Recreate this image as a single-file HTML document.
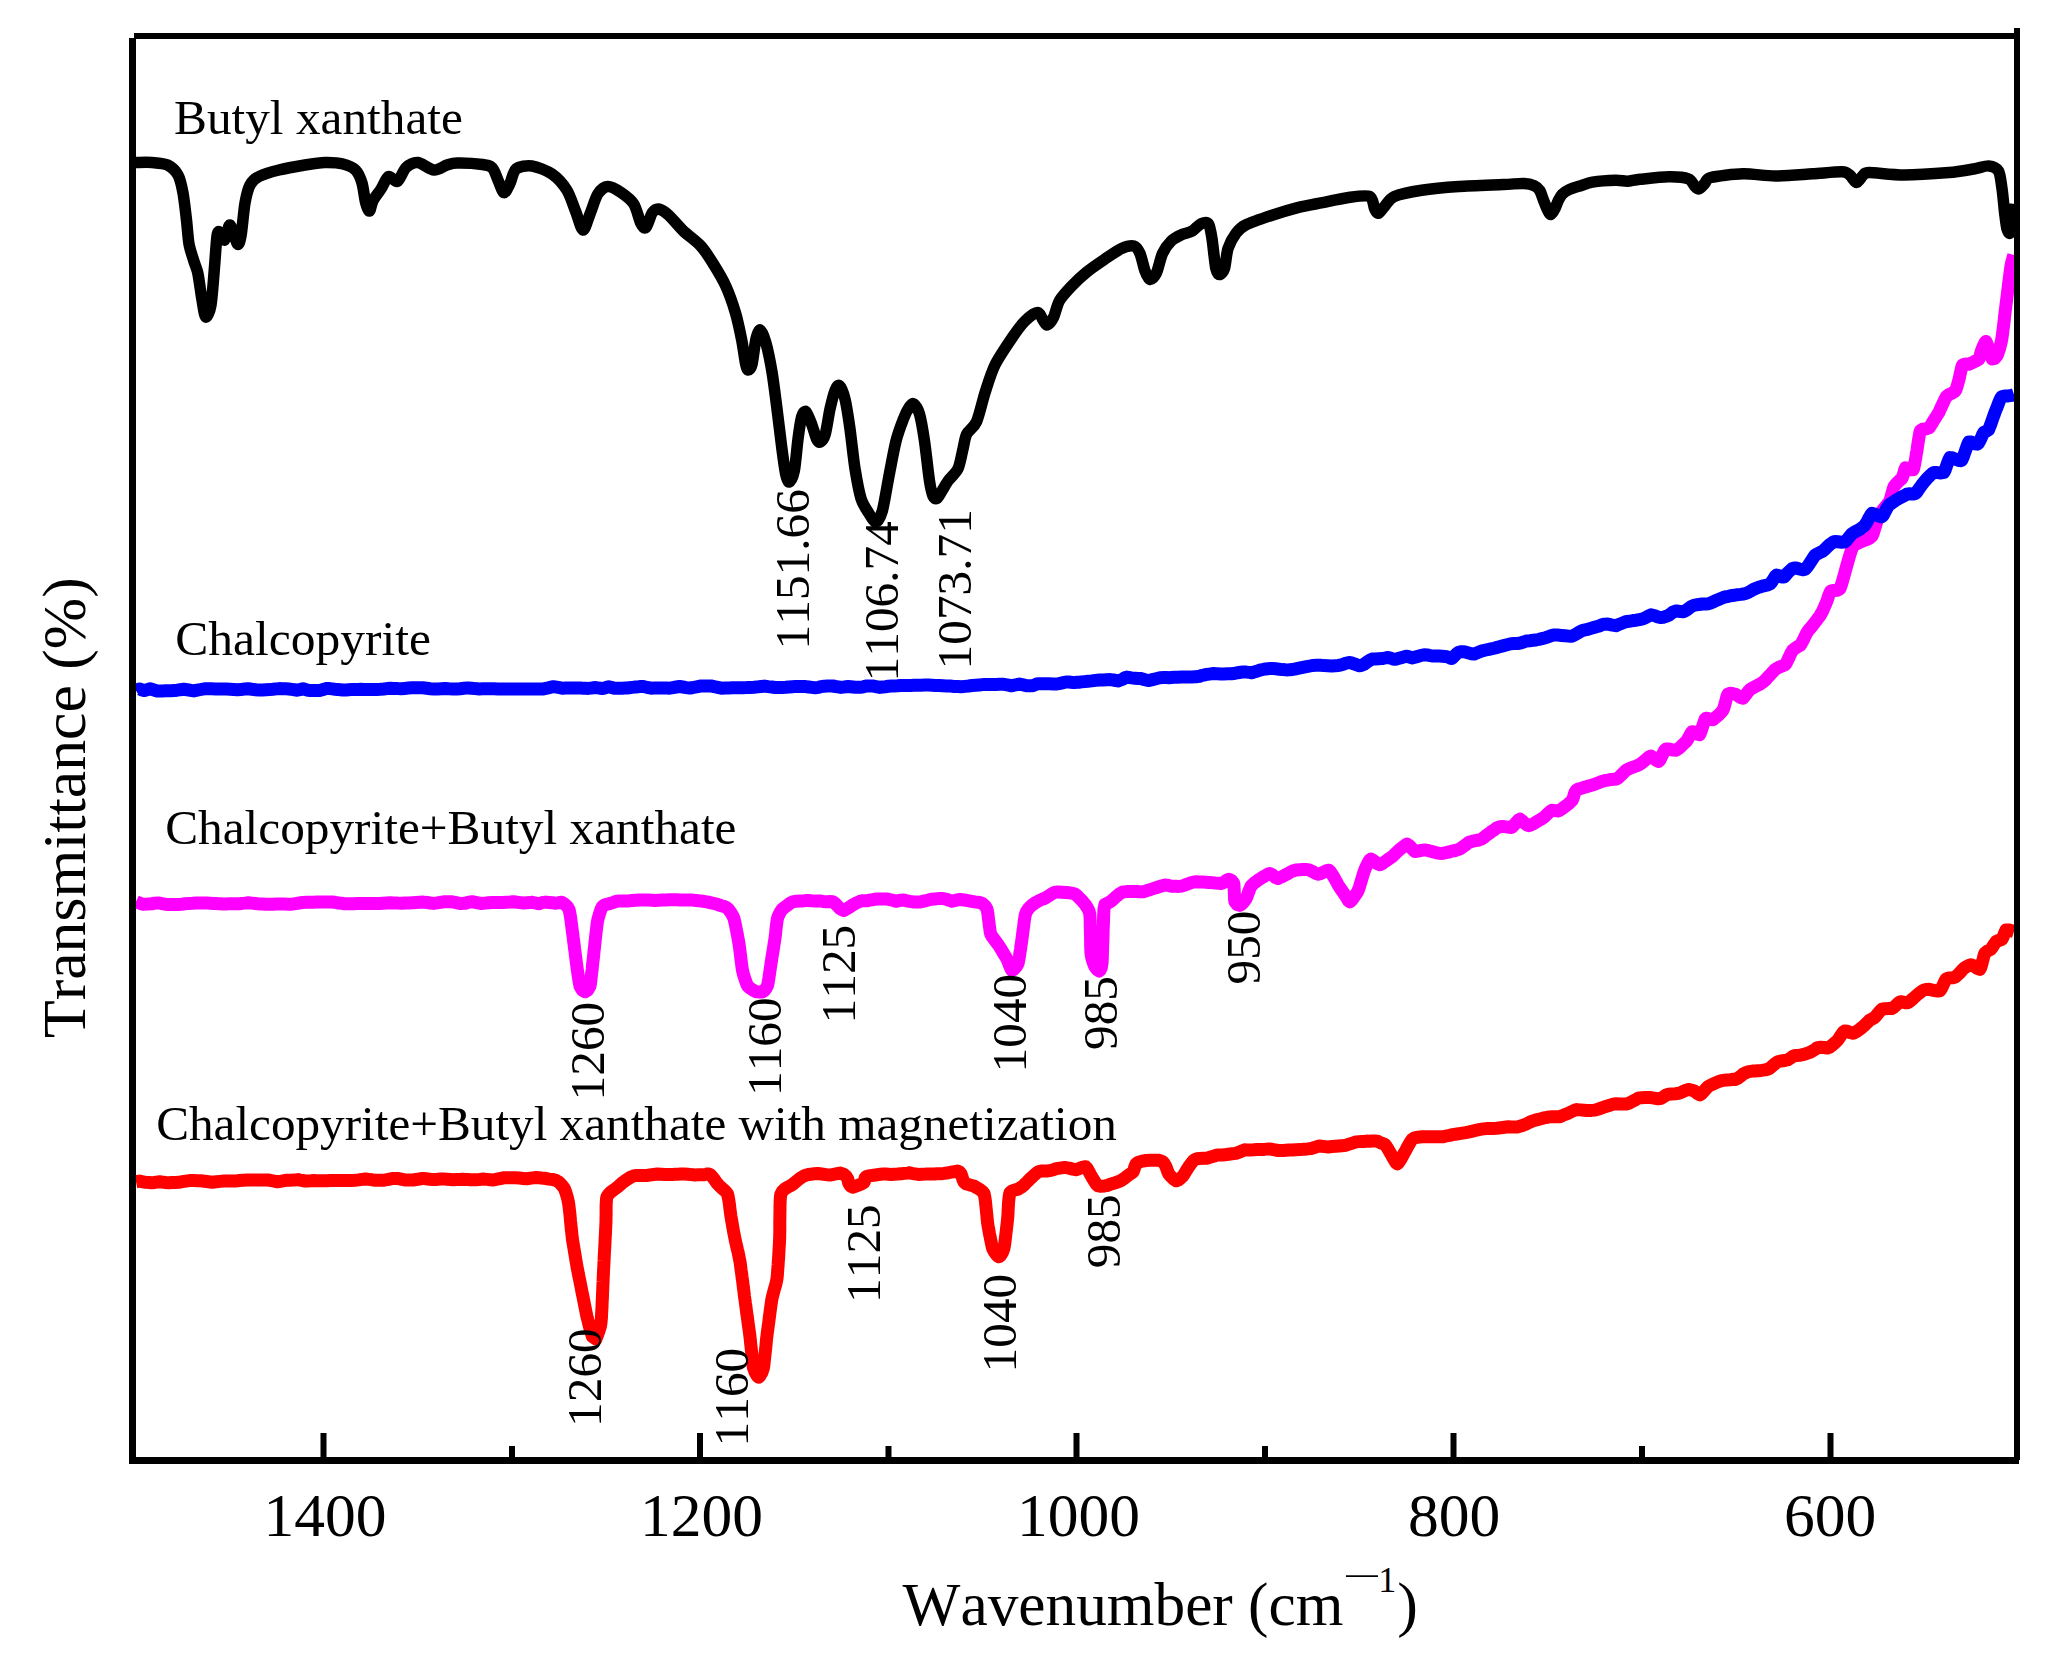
<!DOCTYPE html>
<html lang="en"><head><meta charset="utf-8"><title>FTIR spectra</title>
<style>html,body{margin:0;padding:0;background:#fff}svg{display:block}text{font-family:"Liberation Serif","Times New Roman",serif;fill:#000;font-kerning:none}.c{fill:none;stroke-linejoin:round;stroke-linecap:butt}</style></head><body>
<svg width="2064" height="1654" viewBox="0 0 2064 1654">
<rect width="2064" height="1654" fill="#fff"/>
<defs><clipPath id="pc"><rect x="133" y="36" width="1884" height="1424"/></clipPath></defs>
<g clip-path="url(#pc)">
<path class="c" stroke="#000" stroke-width="11.5" d="M136.0,162.5C138.3,162.5 147.5,162.1 152.0,162.5C156.5,162.9 163.9,163.2 167.6,165.0C171.3,166.8 175.8,171.0 178.0,175.0C180.2,179.0 181.8,186.5 183.0,193.0C184.2,199.5 185.8,213.8 186.6,221.0C187.4,228.2 188.0,238.3 189.0,244.0C190.0,249.7 192.7,257.2 194.0,261.5C195.3,265.8 196.9,268.5 198.0,274.0C199.1,279.5 200.9,293.9 202.0,300.0C203.1,306.1 204.4,316.3 205.7,317.0C207.0,317.7 209.8,312.1 211.0,305.0C212.2,297.9 213.7,276.8 214.5,267.0C215.3,257.2 216.3,241.0 217.0,236.0C217.7,231.0 218.5,231.4 219.6,232.0C220.7,232.6 223.2,241.0 224.7,240.0C226.2,239.0 228.2,224.4 230.0,225.0C231.8,225.6 235.8,242.4 237.4,244.0C239.0,245.6 239.9,241.8 241.0,236.0C242.1,230.2 243.7,210.2 245.0,203.0C246.3,195.8 248.0,188.8 250.0,185.0C252.0,181.2 254.9,178.6 259.0,176.5C263.1,174.4 272.5,171.6 279.0,170.0C285.5,168.4 298.5,166.1 305.0,165.0C311.5,163.9 319.6,162.6 325.0,162.5C330.4,162.4 338.7,162.9 343.0,164.0C347.3,165.1 352.8,167.3 355.5,170.0C358.2,172.7 360.6,178.3 362.0,183.0C363.4,187.7 364.6,199.0 365.7,203.0C366.8,207.0 368.5,211.3 369.5,211.0C370.5,210.7 371.4,203.7 373.0,200.6C374.6,197.5 378.8,192.4 381.0,189.0C383.2,185.6 386.2,177.6 388.5,176.5C390.8,175.4 394.9,182.8 397.4,181.5C399.9,180.2 403.1,170.3 406.0,167.6C408.9,164.9 413.7,162.2 417.7,162.5C421.7,162.8 429.8,169.6 434.0,170.0C438.2,170.4 443.7,166.0 447.0,165.0C450.3,164.0 452.0,163.1 457.0,163.0C462.0,162.9 477.5,163.8 482.5,164.5C487.5,165.2 490.1,165.6 492.4,168.0C494.7,170.4 497.0,178.1 498.6,181.6C500.2,185.1 502.4,192.4 504.0,192.7C505.6,193.0 508.1,187.4 509.8,184.0C511.5,180.6 512.9,171.6 516.0,169.0C519.1,166.4 526.9,165.3 532.0,166.0C537.1,166.7 547.1,170.6 552.0,174.0C556.9,177.4 563.5,184.8 566.8,190.0C570.1,195.2 573.2,205.3 575.5,211.0C577.8,216.7 580.9,229.6 583.0,230.0C585.1,230.4 587.9,219.1 590.0,214.0C592.1,208.9 595.3,197.9 597.8,194.0C600.3,190.1 604.5,186.7 607.8,186.5C611.1,186.3 617.7,190.2 621.4,192.7C625.1,195.2 631.0,199.6 633.8,204.0C636.6,208.4 639.3,220.4 641.0,223.7C642.7,227.0 644.4,229.1 646.0,227.5C647.6,225.9 650.6,215.2 652.4,212.6C654.2,210.0 656.3,208.7 658.6,209.0C660.9,209.3 665.0,211.9 668.5,215.0C672.0,218.1 678.8,226.6 683.4,231.0C688.0,235.4 696.6,241.4 700.8,246.0C705.0,250.6 709.5,257.8 713.0,263.4C716.5,269.0 722.4,278.7 725.6,285.7C728.8,292.7 733.2,305.3 735.5,313.0C737.8,320.7 740.3,333.0 741.7,340.0C743.1,347.0 744.5,358.4 745.4,362.7C746.3,366.9 747.1,369.7 748.0,370.0C748.9,370.3 750.9,368.8 752.0,364.5C753.1,360.2 754.7,344.6 755.8,339.7C756.9,334.8 758.6,329.5 760.0,329.8C761.4,330.1 764.0,336.0 765.7,342.0C767.4,348.0 770.4,362.5 772.0,372.0C773.6,381.5 775.6,398.1 777.0,409.0C778.4,419.9 780.7,439.6 781.9,448.8C783.1,458.0 784.6,469.0 785.6,473.7C786.6,478.4 788.1,482.4 789.3,482.0C790.5,481.6 793.1,477.1 794.3,471.0C795.5,464.9 797.0,446.7 798.0,439.0C799.0,431.3 800.6,420.5 801.7,416.6C802.8,412.7 804.6,410.6 806.0,411.6C807.4,412.6 810.1,420.1 811.6,424.0C813.1,427.9 815.4,436.4 816.6,439.0C817.8,441.6 819.1,442.7 820.3,442.0C821.5,441.3 823.9,438.7 825.3,434.0C826.7,429.3 828.6,415.2 830.0,409.0C831.4,402.8 833.7,393.8 835.0,390.5C836.3,387.2 838.0,384.4 839.4,385.6C840.8,386.8 843.5,392.9 845.0,399.0C846.5,405.1 848.6,419.1 850.0,429.0C851.4,438.9 853.4,458.9 855.0,468.7C856.6,478.5 859.1,492.2 861.0,498.5C862.9,504.8 866.6,509.7 868.7,513.0C870.8,516.3 874.1,522.3 876.0,522.0C877.9,521.7 880.5,517.1 882.3,511.0C884.1,504.9 886.6,488.5 888.5,478.6C890.4,468.7 893.9,449.4 896.0,441.0C898.1,432.6 901.5,423.9 903.4,419.0C905.3,414.1 908.1,408.8 909.6,406.7C911.1,404.6 912.4,403.0 913.8,404.0C915.2,405.0 918.0,408.8 919.5,414.0C921.0,419.2 923.1,431.5 924.5,441.0C925.9,450.5 928.3,473.2 929.5,481.0C930.7,488.8 932.0,493.5 933.0,496.0C934.0,498.5 935.6,499.2 936.9,498.5C938.2,497.8 940.3,493.5 941.9,491.0C943.5,488.5 945.7,484.2 948.0,481.0C950.3,477.8 955.9,473.3 958.0,468.7C960.1,464.1 961.8,453.7 963.0,448.8C964.2,443.9 964.8,437.9 966.7,434.0C968.6,430.1 974.0,427.6 976.6,421.6C979.2,415.6 982.7,399.9 985.3,391.8C987.9,383.7 991.3,372.3 995.2,364.5C999.1,356.7 1008.4,343.2 1012.6,337.0C1016.8,330.8 1021.5,324.5 1025.0,321.0C1028.5,317.5 1034.8,312.4 1037.4,312.4C1040.0,312.4 1042.2,319.2 1043.6,321.0C1045.0,322.8 1045.9,325.3 1047.3,324.8C1048.7,324.3 1051.8,320.8 1053.5,317.4C1055.2,314.0 1056.9,305.1 1059.5,300.6C1062.1,296.1 1068.1,289.8 1072.0,285.7C1075.9,281.6 1082.3,275.7 1086.8,272.0C1091.3,268.3 1099.1,263.0 1104.0,259.7C1108.9,256.4 1117.3,250.4 1121.6,248.5C1125.8,246.6 1131.4,245.3 1134.0,246.0C1136.6,246.7 1138.4,250.0 1140.0,253.5C1141.6,257.0 1143.6,267.2 1145.0,270.9C1146.4,274.6 1148.4,279.2 1150.0,279.5C1151.6,279.8 1154.5,277.0 1156.3,273.3C1158.1,269.6 1160.4,258.1 1162.5,253.5C1164.6,248.9 1168.6,243.6 1171.2,241.0C1173.8,238.4 1178.0,236.4 1181.0,235.0C1184.0,233.6 1189.5,232.6 1192.3,231.0C1195.1,229.4 1198.7,224.7 1201.0,223.7C1203.3,222.7 1206.8,221.6 1208.4,223.7C1210.0,225.8 1211.0,232.3 1212.0,238.6C1213.0,244.9 1214.7,263.3 1215.8,268.4C1216.9,273.5 1218.3,274.6 1219.5,274.6C1220.7,274.6 1223.3,272.1 1224.5,268.4C1225.7,264.7 1226.4,253.4 1228.0,248.5C1229.6,243.6 1233.2,237.0 1235.7,233.7C1238.2,230.4 1240.3,227.6 1245.6,225.0C1250.9,222.4 1265.5,217.5 1272.9,215.0C1280.3,212.5 1290.7,209.4 1297.7,207.6C1304.7,205.8 1315.5,204.0 1322.5,202.6C1329.5,201.2 1340.6,198.6 1347.3,197.7C1354.0,196.8 1365.7,194.8 1369.6,196.4C1373.5,198.0 1373.4,206.4 1374.6,208.8C1375.8,211.2 1376.9,213.6 1378.3,213.3C1379.7,213.0 1382.2,208.8 1384.5,206.4C1386.8,204.0 1389.1,198.7 1394.4,196.4C1399.7,194.1 1412.5,191.6 1421.7,190.2C1430.9,188.8 1447.4,187.3 1459.0,186.5C1470.6,185.7 1494.2,185.0 1503.3,184.6C1512.4,184.2 1519.0,183.2 1523.4,183.4C1527.8,183.6 1532.0,184.7 1534.3,185.7C1536.6,186.7 1538.4,188.3 1539.7,190.4C1541.0,192.5 1542.5,197.8 1543.6,200.5C1544.7,203.2 1546.4,207.8 1547.4,209.8C1548.4,211.8 1549.8,214.7 1550.9,214.5C1552.0,214.3 1554.2,210.2 1555.2,208.2C1556.2,206.2 1557.3,202.5 1558.3,200.5C1559.3,198.5 1560.7,195.8 1562.2,194.3C1563.7,192.8 1566.5,190.8 1569.1,189.6C1571.7,188.4 1577.5,186.7 1580.8,185.7C1584.1,184.7 1587.5,183.0 1592.4,182.2C1597.3,181.4 1610.8,180.4 1615.7,180.3C1620.6,180.2 1623.9,181.3 1627.3,181.2C1630.7,181.1 1634.1,179.9 1640.0,179.3C1645.9,178.7 1661.7,176.9 1668.6,176.8C1675.5,176.7 1684.7,177.5 1688.4,178.8C1692.1,180.1 1693.1,184.6 1694.6,186.0C1696.1,187.4 1697.5,189.3 1698.9,189.0C1700.3,188.7 1702.9,185.3 1704.6,183.7C1706.3,182.1 1705.4,178.9 1710.8,177.5C1716.2,176.1 1733.9,174.0 1743.0,173.8C1752.1,173.6 1765.2,176.0 1775.0,176.0C1784.8,176.0 1803.0,174.4 1812.5,173.8C1822.0,173.2 1836.7,171.6 1842.0,171.8C1847.3,172.0 1847.6,173.5 1849.7,175.0C1851.8,176.5 1854.7,182.5 1856.6,182.5C1858.5,182.5 1861.5,176.4 1863.3,175.0C1865.1,173.6 1863.7,172.6 1869.5,172.6C1875.3,172.6 1892.7,175.0 1904.0,175.0C1915.3,175.0 1939.1,173.4 1949.0,172.6C1958.9,171.8 1968.1,169.9 1973.7,169.0C1979.3,168.1 1985.1,165.6 1988.6,165.9C1992.1,166.2 1996.6,167.8 1998.5,171.0C2000.4,174.2 2001.1,182.7 2002.0,188.7C2002.9,194.7 2004.0,207.8 2004.7,213.5C2005.4,219.2 2006.2,226.2 2007.0,229.0C2007.8,231.8 2009.2,233.9 2010.0,233.2C2010.8,232.5 2011.8,228.1 2012.5,224.0C2013.2,219.9 2014.6,206.8 2015.0,204.0"/>
<path class="c" stroke="#f0f" stroke-width="13" d="M136.0,901.6L137.5,902.3L139.9,903.2L143.2,904.2L147.3,904.1L152.0,903.8L153.3,903.2L155.0,903.2L157.0,903.1L159.3,903.0L161.9,903.6L164.7,904.1L167.8,904.6L171.0,904.6L174.4,904.6L177.9,904.5L181.5,904.2L185.1,903.8L188.8,903.4L192.5,903.3L196.2,903.1L199.8,903.0L203.4,903.1L206.9,903.1L210.2,903.2L213.3,903.4L216.3,903.5L219.0,903.7L220.5,903.8L222.2,903.9L224.1,904.0L226.2,903.9L228.5,903.8L230.9,903.7L233.5,903.7L236.3,903.8L239.2,903.8L242.2,903.4L245.3,903.1L248.5,902.7L251.9,903.1L255.3,903.5L258.8,903.9L262.3,904.0L265.9,904.2L269.6,904.3L273.3,904.2L277.0,904.1L280.7,904.0L284.5,904.1L288.2,904.2L291.9,904.2L295.6,903.6L299.3,903.0L302.9,902.4L306.4,902.3L309.9,902.2L313.3,902.2L316.7,902.1L319.9,902.0L323.0,902.0L326.0,902.0L328.9,902.0L331.7,902.0L334.3,902.3L336.7,902.6L339.0,903.0L341.1,903.2L343.0,903.5L344.9,903.8L347.0,903.8L349.3,903.8L351.7,903.8L354.3,903.7L357.0,903.6L359.9,903.5L362.9,903.5L366.0,903.5L369.2,903.5L372.5,903.5L375.9,903.6L379.4,903.6L382.9,903.3L386.5,903.0L390.2,902.7L393.8,902.9L397.5,903.1L401.3,903.2L405.0,903.0L408.7,902.9L412.4,902.7L416.1,902.5L419.7,902.3L423.3,902.1L426.9,902.5L430.4,903.0L433.8,903.4L437.1,902.9L440.4,902.3L443.5,901.8L446.5,901.8L449.4,901.8L452.2,901.8L454.8,902.3L457.3,902.9L459.6,903.4L461.7,903.4L463.7,903.3L465.4,903.2L467.0,902.7L469.5,902.2L472.2,901.7L475.1,902.3L478.2,902.9L481.5,903.5L484.9,903.1L488.3,902.7L491.9,902.4L495.5,902.4L499.2,902.5L502.8,902.6L506.4,902.3L510.0,902.1L513.6,901.8L517.0,902.2L520.4,902.6L523.6,903.0L526.7,902.8L529.5,902.6L532.2,902.3L534.7,902.8L536.8,903.3L538.8,903.7L540.4,903.2L541.7,902.7L545.6,902.1L549.3,902.5L552.6,902.8L555.6,903.2L558.1,902.8L560.1,902.4L561.6,902.3L564.5,903.9L567.2,906.4L569.0,909.5L569.4,911.0L569.9,913.6L570.5,916.9L571.0,920.6L571.5,924.5L572.0,928.1L572.4,931.4L572.7,933.9L573.0,935.9L573.3,938.6L573.7,941.7L574.2,945.2L574.6,948.8L575.1,952.4L575.5,955.8L575.9,958.9L576.2,961.5L576.5,963.5L576.8,965.9L577.2,968.9L577.7,972.3L578.2,975.7L578.7,979.0L579.2,981.9L579.6,984.3L580.0,986.1L582.4,990.2L585.0,991.8L587.5,990.4L590.0,986.2L590.3,984.5L590.6,982.3L591.0,979.5L591.3,976.2L591.7,972.6L592.2,968.9L592.5,965.3L592.9,961.8L593.3,958.7L593.6,955.9L593.8,953.8L594.0,951.7L594.3,949.0L594.7,945.8L595.0,942.4L595.4,938.8L595.8,935.1L596.2,931.6L596.6,928.3L596.9,925.4L597.2,923.1L597.5,921.4L598.2,918.3L599.2,914.8L600.3,911.3L601.4,908.4L602.5,906.4L604.3,905.2L607.1,904.2L610.4,903.4L613.7,902.3L615.4,901.6L617.8,901.0L620.9,901.0L624.3,900.9L628.0,900.9L631.8,900.6L635.6,900.3L639.1,900.1L642.2,900.0L644.7,900.0L646.6,900.0L649.0,900.1L651.8,900.2L655.0,900.4L658.5,900.2L662.2,900.0L665.9,899.9L669.6,899.8L673.3,899.8L676.7,899.8L679.9,899.9L682.7,900.0L685.0,900.1L686.8,900.0L689.4,900.0L692.6,900.1L696.0,900.5L699.7,900.9L703.3,901.3L706.7,901.9L709.8,902.5L712.2,903.1L714.0,903.4L717.3,904.3L721.0,905.7L724.3,906.6L726.5,907.5L728.3,909.1L730.5,912.1L732.6,915.4L734.0,918.6L734.5,920.8L735.2,923.7L735.9,927.2L736.6,930.9L737.4,934.7L738.0,938.3L738.6,941.4L739.0,943.9L739.3,946.0L739.7,948.9L740.1,952.2L740.6,955.9L741.0,959.7L741.5,963.3L741.9,966.6L742.3,969.2L742.6,970.9L743.3,973.7L744.4,977.2L745.6,980.9L746.7,984.0L747.6,985.8L749.7,987.9L752.7,989.9L755.0,991.3L757.3,991.8L760.3,992.1L762.5,992.0L764.2,990.8L766.1,988.3L767.5,985.6L767.9,984.1L768.3,981.7L768.8,978.7L769.3,975.3L769.8,971.8L770.3,968.6L770.7,965.8L771.0,963.7L771.4,961.4L771.8,958.4L772.4,954.8L773.0,951.1L773.6,947.3L774.1,943.8L774.6,941.0L774.9,938.9L775.2,936.6L775.6,933.5L775.9,930.1L776.3,926.6L776.7,923.4L777.1,920.7L777.4,918.8L778.2,916.3L779.5,913.6L780.8,911.2L782.0,909.5L783.6,908.1L786.1,906.3L788.8,904.2L791.0,902.7L793.2,901.6L796.4,901.3L800.0,901.0L803.4,900.9L805.9,900.6L808.1,900.5L811.2,900.8L814.6,900.9L818.1,901.0L821.0,901.0L823.0,901.5L826.4,901.7L830.3,901.6L833.0,901.7L835.1,903.4L837.6,906.0L839.4,908.0L841.6,909.7L844.0,910.5L846.5,909.0L850.1,906.7L853.0,904.8L854.7,903.9L857.0,902.6L859.8,901.4L863.0,900.7L864.5,900.8L866.8,900.8L869.6,900.2L872.9,899.6L876.4,899.0L880.2,899.0L883.9,899.1L887.5,899.1L890.8,899.8L893.7,900.5L896.1,901.3L897.7,900.7L900.7,900.3L903.8,900.1L906.9,900.8L909.8,901.4L912.6,901.8L914.4,902.0L917.0,902.0L920.2,902.0L923.7,901.1L927.5,900.2L931.2,899.2L934.7,898.9L937.9,898.6L940.3,898.4L942.0,898.4L946.0,899.1L949.5,900.4L952.0,901.2L954.2,900.7L956.9,899.9L959.7,899.5L961.5,899.6L964.4,900.0L967.8,900.6L971.5,901.3L974.9,901.9L977.8,902.2L979.6,902.4L982.5,903.6L985.2,906.0L987.0,909.1L987.4,910.9L987.9,913.8L988.3,917.3L988.8,921.3L989.3,925.3L989.8,928.9L990.2,932.0L990.7,934.0L991.9,936.3L993.8,938.8L996.0,941.7L998.0,944.4L999.4,946.5L1000.7,948.5L1002.3,951.3L1004.1,954.3L1005.7,956.9L1006.8,958.7L1007.9,961.3L1009.3,965.0L1010.7,968.4L1011.8,970.4L1013.7,969.4L1016.2,966.8L1018.0,963.6L1018.4,962.0L1018.9,959.5L1019.4,956.5L1019.9,953.0L1020.5,949.5L1020.9,946.1L1021.4,943.2L1021.7,940.9L1022.0,938.8L1022.4,935.9L1022.8,932.5L1023.3,928.8L1023.8,925.1L1024.2,921.6L1024.7,918.4L1025.1,915.8L1025.5,914.1L1026.6,911.3L1028.3,908.8L1030.1,906.8L1031.7,905.4L1033.5,904.0L1036.1,902.3L1039.1,900.6L1041.9,899.4L1044.0,898.6L1046.0,897.6L1048.6,895.9L1051.5,894.1L1054.3,892.6L1056.5,892.0L1058.7,892.0L1062.0,892.2L1065.8,892.5L1069.6,892.8L1072.8,893.3L1074.9,894.0L1076.9,895.5L1079.2,897.8L1081.5,900.1L1083.5,902.4L1084.8,903.9L1086.1,905.9L1087.6,908.3L1089.0,911.0L1089.8,914.2L1089.9,915.6L1090.1,917.9L1090.2,920.8L1090.2,924.2L1090.3,927.9L1090.4,931.8L1090.5,935.8L1090.6,939.7L1090.6,943.4L1090.7,946.8L1090.8,949.7L1090.9,952.1L1091.0,953.6L1091.7,957.4L1092.7,961.0L1093.8,964.1L1094.7,966.3L1097.0,969.4L1099.2,971.0L1100.1,970.2L1101.2,968.1L1102.0,963.5L1102.1,962.2L1102.2,960.3L1102.3,957.8L1102.4,954.9L1102.5,951.6L1102.6,948.0L1102.7,944.2L1102.9,940.3L1103.0,936.2L1103.1,932.2L1103.2,928.2L1103.4,924.4L1103.5,920.9L1103.6,917.6L1103.7,914.7L1103.8,912.2L1103.9,910.3L1104.0,908.8L1105.0,904.3L1107.0,903.6L1108.5,902.8L1110.9,901.3L1113.9,898.6L1117.0,895.9L1119.8,893.6L1122.0,892.4L1124.0,891.9L1126.6,891.6L1129.8,891.6L1133.2,891.6L1136.5,891.6L1139.5,891.8L1141.9,891.8L1143.9,891.7L1146.8,890.7L1150.1,889.6L1153.8,888.4L1157.6,887.2L1161.3,886.1L1164.5,885.1L1167.2,885.2L1169.0,885.6L1172.3,886.3L1175.8,886.3L1179.0,886.4L1181.6,886.1L1183.9,885.4L1187.2,884.2L1190.8,882.8L1194.1,882.0L1196.4,881.8L1199.1,882.0L1202.7,882.1L1206.2,882.3L1208.8,882.6L1211.5,882.6L1215.1,883.0L1218.6,883.2L1221.0,883.6L1223.6,882.5L1226.6,880.3L1228.7,879.2L1231.4,880.4L1233.7,883.3L1234.0,885.0L1234.1,888.3L1234.3,892.3L1234.5,896.3L1234.6,899.6L1234.9,901.7L1237.2,904.5L1239.9,905.4L1241.7,904.2L1244.2,901.4L1246.0,898.8L1247.1,896.3L1248.4,892.6L1249.8,888.9L1251.0,886.2L1252.4,884.7L1254.5,882.8L1256.7,881.2L1258.5,879.8L1260.7,878.4L1264.0,876.5L1267.3,874.5L1269.6,873.5L1272.2,874.7L1275.3,877.4L1278.0,878.5L1279.8,877.5L1282.5,876.4L1285.5,874.8L1288.4,873.4L1290.7,871.9L1292.8,871.0L1295.9,870.0L1299.5,869.7L1303.0,869.6L1306.0,869.6L1308.0,869.7L1310.4,870.5L1313.2,871.9L1315.9,873.5L1318.0,874.3L1320.3,873.7L1323.5,872.1L1326.7,870.6L1329.0,870.2L1330.5,871.9L1332.5,874.9L1334.6,878.4L1336.5,881.8L1337.8,884.3L1339.4,886.9L1341.5,890.0L1343.6,893.0L1345.0,895.0L1346.6,897.6L1348.4,900.6L1350.0,901.9L1351.5,900.4L1353.8,897.5L1356.0,894.2L1357.7,891.5L1358.4,889.9L1359.3,887.4L1360.3,884.0L1361.4,880.3L1362.5,876.6L1363.5,873.4L1364.4,870.8L1365.0,869.2L1366.3,866.3L1367.9,863.0L1369.6,860.1L1371.0,859.1L1373.5,860.6L1377.0,863.5L1380.0,864.8L1381.9,863.8L1384.5,862.0L1387.5,859.9L1390.3,857.9L1392.4,856.5L1394.3,854.6L1396.9,852.1L1399.9,849.3L1402.8,847.0L1405.3,845.1L1407.0,844.1L1409.6,845.9L1412.4,849.1L1414.7,851.4L1417.6,851.2L1421.5,850.4L1424.7,849.9L1427.2,850.3L1430.7,851.2L1434.2,852.1L1437.0,852.9L1439.3,853.2L1442.5,853.4L1446.1,852.7L1449.5,851.9L1452.0,851.0L1454.2,850.8L1457.2,849.8L1460.6,848.6L1464.0,846.1L1466.9,843.8L1469.0,842.2L1471.8,841.4L1475.4,840.7L1479.0,840.0L1481.7,839.0L1483.6,837.7L1486.1,835.6L1489.1,833.4L1492.0,831.2L1494.7,829.5L1496.6,827.9L1499.1,827.0L1502.5,826.4L1506.1,826.9L1509.3,827.4L1511.5,827.6L1513.6,825.6L1516.0,822.8L1518.3,820.1L1520.0,819.2L1521.8,820.5L1524.3,822.9L1526.9,824.9L1528.9,825.7L1530.7,825.1L1533.4,823.7L1536.3,821.9L1539.1,820.2L1541.0,819.2L1542.9,818.0L1545.4,815.9L1548.0,813.4L1550.4,811.3L1552.0,810.3L1555.2,810.6L1558.6,811.0L1560.2,809.9L1562.6,808.3L1565.4,806.2L1568.2,804.1L1570.5,802.0L1572.0,800.6L1573.1,798.3L1574.0,795.2L1575.1,792.0L1576.8,789.7L1578.3,789.1L1580.7,788.4L1583.7,787.5L1587.1,786.5L1590.6,785.5L1594.1,784.5L1597.2,783.3L1599.8,782.3L1601.6,781.5L1604.4,780.7L1607.8,780.1L1611.3,779.4L1614.4,779.3L1616.5,779.0L1618.3,777.9L1620.4,775.9L1622.7,773.6L1624.8,771.5L1626.4,770.0L1628.9,768.7L1632.5,767.3L1636.1,766.0L1638.8,764.9L1640.8,763.7L1643.6,761.4L1646.6,758.9L1649.2,756.7L1651.0,756.0L1653.5,757.7L1656.5,760.5L1658.7,761.4L1659.9,760.1L1661.4,757.0L1663.1,753.4L1664.7,750.3L1666.0,749.1L1668.9,748.9L1672.9,750.1L1676.0,750.2L1678.2,748.9L1681.2,746.3L1684.0,743.4L1686.0,741.7L1687.4,739.7L1689.1,736.8L1690.7,733.6L1692.0,731.7L1694.3,732.0L1697.3,734.1L1699.6,734.6L1700.4,733.1L1701.5,730.0L1702.7,726.2L1703.9,722.4L1705.0,719.3L1705.8,718.2L1707.9,718.5L1710.7,719.6L1713.0,719.7L1714.6,718.2L1716.8,716.5L1719.3,714.3L1721.5,712.0L1723.0,710.1L1723.8,708.1L1724.7,705.1L1725.6,701.6L1726.5,698.2L1727.3,695.4L1728.0,693.9L1730.2,693.3L1733.2,693.7L1735.6,694.3L1737.9,695.7L1740.8,697.7L1743.0,698.2L1744.5,696.5L1746.5,693.8L1748.6,691.1L1750.5,689.2L1752.2,688.2L1754.8,686.8L1757.8,685.2L1760.9,683.6L1763.5,681.7L1765.3,680.1L1767.1,678.1L1769.3,675.8L1771.6,673.2L1773.7,671.0L1775.3,669.3L1778.3,667.6L1782.2,666.0L1785.0,664.8L1786.1,663.4L1787.4,660.8L1788.9,657.7L1790.3,654.6L1791.6,652.1L1792.6,650.3L1794.9,648.4L1797.8,646.6L1800.0,645.5L1801.2,643.9L1802.7,641.2L1804.4,637.6L1806.1,634.2L1807.5,631.6L1808.7,630.1L1810.5,628.0L1812.6,625.5L1814.8,622.6L1816.9,619.8L1818.7,617.4L1819.9,615.8L1821.0,614.0L1822.4,611.5L1823.8,608.4L1825.1,605.4L1826.2,602.8L1827.0,600.8L1827.9,598.2L1828.9,595.1L1830.0,592.4L1831.0,590.8L1833.5,590.4L1837.1,590.3L1839.8,589.1L1840.5,587.2L1841.5,584.5L1842.5,581.1L1843.5,577.5L1844.5,574.0L1845.3,570.8L1846.0,568.5L1846.6,566.3L1847.4,563.4L1848.4,559.9L1849.4,556.5L1850.4,553.2L1851.4,550.2L1852.3,547.8L1853.0,546.4L1855.6,544.2L1859.2,542.6L1862.0,541.4L1864.1,540.5L1867.1,539.4L1870.0,537.9L1872.0,536.0L1872.8,534.4L1873.7,531.8L1874.7,528.6L1875.8,525.3L1876.8,521.8L1877.8,518.7L1878.7,516.1L1879.5,514.4L1881.1,512.1L1883.3,509.2L1885.8,506.3L1888.0,503.5L1889.4,501.6L1890.3,499.3L1891.3,495.9L1892.3,492.2L1893.2,488.9L1894.0,486.6L1895.6,484.5L1897.9,482.1L1900.3,479.8L1901.8,478.7L1902.7,476.6L1903.7,473.3L1904.6,469.9L1905.5,467.9L1907.7,468.2L1910.8,469.8L1913.0,469.8L1913.6,468.6L1914.3,465.7L1915.0,462.0L1915.7,458.1L1916.2,454.6L1916.7,452.1L1917.1,449.9L1917.5,446.6L1918.1,442.8L1918.7,438.9L1919.3,435.4L1919.8,432.5L1920.4,430.6L1922.8,429.2L1926.2,428.8L1929.0,427.9L1930.3,426.1L1932.0,423.4L1934.0,420.0L1936.0,416.9L1937.8,414.1L1939.0,412.2L1940.0,409.9L1941.3,407.0L1942.8,403.7L1944.2,400.7L1945.4,398.2L1946.4,396.5L1949.1,394.5L1952.6,392.8L1955.0,391.3L1956.0,389.6L1957.1,386.2L1958.1,382.7L1958.9,379.8L1959.5,377.3L1960.2,373.7L1961.1,369.9L1961.9,366.6L1962.6,364.8L1965.5,364.1L1968.8,364.2L1970.9,363.3L1973.9,361.9L1976.9,360.4L1978.7,359.4L1979.7,357.5L1980.4,354.6L1981.0,352.0L1981.9,349.6L1983.3,346.1L1984.8,343.0L1986.0,341.4L1986.8,343.3L1987.9,346.2L1989.2,350.1L1990.4,354.0L1991.5,357.3L1992.3,359.0L1994.7,358.4L1997.0,355.6L1997.6,354.4L1998.4,352.0L1999.4,349.1L2000.3,345.8L2001.1,342.6L2001.7,339.7L2002.0,337.9L2002.3,335.5L2002.7,332.6L2003.1,329.4L2003.5,325.9L2004.0,322.2L2004.4,318.4L2004.8,314.7L2005.2,311.3L2005.6,308.1L2005.9,305.4L2006.2,303.2L2006.5,301.1L2006.8,298.4L2007.2,295.2L2007.6,291.7L2008.1,288.0L2008.6,284.2L2009.0,280.5L2009.5,276.8L2009.9,273.5L2010.3,270.8L2010.6,268.5L2010.8,267.0L2011.5,263.3L2012.5,259.7L2013.3,256.9L2013.8,255.0"/>
<path class="c" stroke="#00f" stroke-width="13" d="M136.0,690.6L137.0,690.0L138.1,689.5L139.4,688.9L140.8,689.4L142.4,690.0L144.2,690.6L146.0,690.0L148.0,689.4L150.1,688.8L152.4,689.5L154.7,690.2L157.2,691.0L159.8,690.9L162.5,690.9L165.2,690.8L168.1,690.7L171.1,690.7L174.1,690.6L177.2,690.2L180.4,689.7L183.7,689.3L187.0,689.8L190.4,690.3L193.8,690.9L197.3,690.2L200.8,689.5L204.4,688.8L208.0,688.8L211.6,688.8L215.2,688.9L218.9,689.0L222.6,689.1L226.3,689.1L230.0,689.3L233.6,689.5L237.3,689.7L241.0,689.4L244.7,689.1L248.3,688.8L251.9,689.3L255.5,689.7L259.1,690.1L262.6,690.0L266.1,689.8L269.5,689.6L272.9,689.3L276.2,688.9L279.4,688.6L282.6,688.7L285.7,688.8L288.8,689.0L291.7,689.4L294.6,689.8L297.3,690.2L300.0,689.7L301.4,689.2L302.9,688.7L304.5,689.3L306.2,689.8L307.9,690.3L309.8,690.4L311.7,690.5L313.7,690.6L315.7,690.5L317.9,690.5L320.1,690.4L322.4,689.7L324.7,689.0L327.1,688.4L329.6,688.6L332.2,688.9L334.8,689.2L337.5,689.4L340.2,689.7L343.0,690.0L345.8,689.9L348.7,689.7L351.7,689.6L354.7,689.5L357.7,689.4L360.8,689.3L364.0,689.4L367.2,689.5L370.4,689.5L373.7,689.5L377.0,689.4L380.3,689.3L383.7,689.0L387.1,688.6L390.6,688.3L394.1,688.4L397.6,688.6L401.1,688.7L404.7,688.4L408.3,688.1L411.9,687.8L415.6,687.8L419.2,687.7L422.9,687.7L426.6,688.2L430.3,688.7L434.0,689.1L437.7,689.0L441.5,688.8L445.2,688.6L449.0,688.8L452.7,688.9L456.5,689.1L460.3,688.7L464.0,688.3L467.8,687.9L471.6,688.2L475.3,688.6L479.1,688.9L482.8,688.8L486.5,688.8L490.3,688.7L494.0,688.8L497.7,688.9L501.3,689.0L505.0,689.0L508.6,688.9L512.2,688.9L515.8,688.9L519.4,689.0L522.9,689.1L526.5,689.0L529.9,688.9L533.4,688.9L536.8,688.9L540.2,688.9L543.6,688.9L546.9,688.2L550.1,687.4L553.4,686.7L556.6,687.2L559.7,687.7L562.8,688.3L565.9,688.1L568.9,688.0L571.8,687.9L574.7,687.9L577.5,688.0L580.3,688.1L583.1,688.2L585.7,688.3L588.3,688.4L590.9,688.1L593.4,687.8L595.8,687.6L598.1,687.9L600.4,688.2L602.6,688.5L604.8,687.9L606.8,687.3L608.8,686.7L610.7,687.2L612.6,687.8L614.3,688.3L616.0,688.3L618.1,688.3L620.2,688.2L622.4,688.2L624.7,688.1L627.0,688.0L629.5,687.7L632.0,687.4L634.5,687.1L637.1,686.9L639.8,686.6L642.6,686.4L645.4,687.0L648.3,687.6L651.2,688.2L654.1,688.1L657.2,688.0L660.2,687.9L663.3,688.0L666.5,688.1L669.7,688.2L673.0,687.6L676.2,687.0L679.6,686.5L682.9,687.0L686.3,687.6L689.7,688.1L693.1,687.5L696.6,686.8L700.1,686.1L703.6,686.0L707.1,686.0L710.7,685.9L714.2,686.7L717.8,687.4L721.4,688.2L725.0,688.0L728.6,687.9L732.2,687.7L735.8,687.7L739.4,687.7L743.1,687.7L746.7,687.6L750.3,687.4L753.9,687.3L757.5,686.9L761.0,686.5L764.6,686.1L768.2,686.6L771.7,687.0L775.2,687.5L778.7,687.4L782.2,687.4L785.6,687.3L789.0,687.0L792.4,686.7L795.8,686.4L799.1,686.5L802.4,686.5L805.6,686.6L808.8,687.0L812.0,687.4L815.1,687.8L818.2,687.3L821.2,686.7L824.2,686.2L827.1,686.1L830.0,686.1L832.8,686.0L835.5,686.5L838.2,686.9L840.9,687.4L843.4,687.1L845.9,686.8L848.4,686.5L850.7,686.7L853.0,687.0L855.2,687.3L857.4,687.2L859.4,687.2L861.4,687.2L863.3,686.8L865.1,686.3L866.8,685.9L868.5,685.9L870.0,685.9L872.3,685.9L874.7,686.4L877.2,686.9L879.8,687.4L882.5,687.0L885.4,686.7L888.3,686.3L891.2,686.1L894.3,685.9L897.5,685.8L900.7,685.6L903.9,685.5L907.3,685.4L910.7,685.4L914.1,685.3L917.6,685.3L921.2,685.2L924.7,685.1L928.3,685.0L931.9,685.2L935.6,685.4L939.3,685.6L942.9,685.8L946.6,686.0L950.3,686.1L954.0,686.4L957.7,686.6L961.3,686.8L965.0,686.4L968.6,686.0L972.2,685.5L975.7,685.2L979.3,684.9L982.7,684.6L986.2,684.6L989.6,684.6L992.9,684.5L996.1,684.4L999.3,684.3L1002.5,684.2L1005.5,684.7L1008.5,685.2L1011.4,685.8L1014.2,685.2L1016.9,684.7L1019.5,684.1L1022.0,684.6L1024.3,685.1L1026.6,685.7L1028.8,685.7L1030.8,685.7L1032.7,685.7L1034.4,685.0L1036.0,684.4L1037.5,683.7L1038.8,683.8L1040.0,683.8L1044.9,683.7L1049.4,683.8L1053.4,683.9L1057.0,684.0L1060.3,683.3L1063.3,682.6L1066.0,682.0L1068.5,682.1L1070.8,682.3L1072.9,682.5L1075.0,682.4L1077.0,682.3L1079.0,682.2L1081.6,681.9L1084.6,681.6L1088.0,681.3L1091.7,680.9L1095.5,680.4L1099.3,680.0L1103.1,679.9L1106.8,679.7L1110.2,679.6L1113.3,680.0L1115.9,680.5L1118.0,680.9L1119.4,680.5L1123.0,679.2L1124.9,677.7L1126.8,677.1L1128.6,677.4L1131.4,677.9L1134.7,678.2L1138.2,678.5L1141.4,678.6L1144.0,679.5L1146.1,680.1L1149.0,680.5L1152.4,679.6L1156.1,678.7L1159.9,677.7L1163.5,677.6L1166.6,677.6L1169.0,677.7L1171.2,677.5L1174.2,677.3L1177.6,677.2L1181.4,677.1L1185.2,677.0L1188.8,676.9L1192.1,676.9L1194.6,676.8L1196.3,676.7L1199.4,676.3L1201.8,675.4L1203.7,675.1L1206.0,674.5L1209.3,674.1L1213.7,673.5L1215.3,673.7L1217.5,673.8L1220.4,673.9L1223.8,673.9L1227.5,673.8L1231.3,673.8L1235.3,673.2L1239.2,672.5L1242.9,671.9L1246.3,672.1L1249.3,672.4L1251.6,672.7L1253.3,672.2L1256.6,671.3L1259.8,670.2L1262.9,669.5L1265.7,668.9L1268.0,668.7L1269.9,668.6L1272.6,668.6L1275.8,668.8L1279.1,669.2L1282.5,669.6L1285.5,669.8L1288.0,669.9L1289.9,669.7L1292.5,669.5L1295.7,668.8L1299.1,668.1L1302.8,667.4L1306.5,666.7L1310.0,666.0L1313.2,665.4L1315.8,665.3L1317.8,665.3L1320.5,665.3L1323.9,665.6L1327.7,665.8L1331.6,666.1L1335.1,665.8L1338.1,665.5L1340.0,665.2L1343.3,664.3L1346.4,663.0L1348.9,662.5L1350.9,662.7L1353.8,663.8L1356.6,664.7L1358.8,665.8L1361.0,665.5L1364.1,664.2L1367.4,661.7L1370.0,660.1L1372.1,659.1L1375.1,658.9L1378.6,658.7L1382.1,658.6L1385.1,658.0L1387.0,657.6L1389.6,657.7L1392.4,658.8L1394.7,659.3L1397.2,658.8L1401.0,657.7L1404.6,656.7L1407.0,656.2L1409.4,657.0L1412.0,657.9L1414.0,657.4L1417.1,656.6L1420.8,655.6L1424.3,654.7L1427.0,654.9L1429.1,655.4L1432.0,656.0L1435.5,656.0L1439.1,656.1L1442.4,656.2L1445.1,656.4L1446.8,656.6L1449.8,657.9L1451.8,658.5L1453.7,656.7L1456.4,654.0L1459.0,652.1L1461.1,651.8L1464.2,651.8L1467.8,652.8L1471.3,653.7L1474.0,654.1L1476.0,653.3L1478.8,652.1L1482.2,650.8L1485.7,650.0L1489.0,649.3L1491.9,648.7L1494.0,648.2L1496.3,647.6L1499.4,646.8L1502.8,645.9L1506.1,645.0L1509.0,644.3L1511.0,643.8L1513.9,643.6L1517.5,643.5L1521.1,642.8L1523.7,642.0L1526.3,641.0L1529.7,640.7L1533.2,640.3L1536.0,640.0L1538.4,639.5L1541.9,638.6L1545.7,637.7L1549.3,636.4L1552.0,635.4L1554.4,634.9L1557.6,635.1L1561.4,635.4L1565.1,635.7L1568.4,636.1L1570.6,636.3L1572.9,635.8L1575.8,634.3L1578.9,632.4L1581.7,630.7L1584.0,630.1L1586.2,629.7L1589.3,628.9L1592.8,627.8L1596.4,626.7L1599.5,625.9L1601.6,624.8L1604.3,624.2L1607.7,624.0L1611.1,624.9L1614.0,625.4L1615.9,625.7L1618.7,624.5L1622.0,623.2L1625.5,621.8L1628.9,621.3L1631.8,620.8L1633.9,620.4L1636.3,620.2L1639.4,619.6L1642.8,618.9L1646.2,617.3L1649.0,615.8L1651.0,614.8L1654.3,615.5L1658.0,617.0L1661.0,617.6L1663.0,617.4L1665.8,616.4L1668.8,615.2L1671.6,613.1L1673.6,611.7L1676.7,610.9L1680.6,611.6L1683.5,611.8L1685.5,610.8L1688.3,608.7L1691.1,606.6L1693.4,605.5L1695.6,604.9L1698.8,604.5L1702.4,604.0L1705.7,603.9L1708.3,603.7L1710.5,603.1L1713.4,601.8L1716.8,600.2L1720.3,598.7L1723.3,597.5L1725.7,596.7L1727.8,596.5L1730.6,595.8L1734.0,595.3L1737.4,594.7L1740.7,594.4L1743.5,594.0L1745.5,593.5L1747.6,592.7L1750.4,591.3L1753.3,589.5L1756.2,588.2L1758.7,587.2L1760.4,586.8L1763.7,585.8L1767.6,584.9L1770.3,583.8L1771.8,581.9L1773.5,579.1L1775.2,576.4L1776.5,575.1L1778.7,575.6L1781.6,577.1L1784.0,577.1L1785.5,575.5L1787.6,572.9L1790.0,570.6L1792.2,568.7L1793.9,568.1L1796.2,568.1L1799.4,569.0L1802.7,569.8L1805.0,569.4L1806.7,567.5L1808.9,564.6L1811.2,561.0L1813.4,557.6L1815.0,555.2L1817.1,554.0L1820.0,552.5L1822.8,551.1L1824.9,549.3L1827.0,547.2L1829.8,544.5L1832.7,542.4L1834.8,541.4L1837.9,541.7L1841.8,542.2L1844.7,542.1L1846.3,540.6L1848.2,538.2L1850.3,535.6L1852.0,533.7L1853.9,532.5L1856.7,530.9L1859.9,529.2L1862.7,527.1L1864.6,525.5L1866.0,523.5L1867.6,520.7L1869.2,517.6L1870.8,514.9L1872.0,513.4L1875.0,514.2L1879.0,516.1L1882.0,516.8L1883.2,515.3L1884.6,512.7L1886.2,509.5L1887.8,506.6L1889.4,504.7L1891.0,503.5L1893.5,501.8L1896.4,499.9L1899.6,498.1L1902.6,496.5L1905.1,495.2L1906.7,494.2L1909.7,493.8L1913.0,494.0L1915.4,493.6L1916.8,492.1L1918.6,489.4L1920.7,486.5L1922.6,483.8L1924.0,482.1L1925.6,480.2L1927.7,477.8L1930.2,475.3L1932.4,473.4L1934.0,472.5L1937.1,472.6L1941.1,473.0L1944.0,472.4L1945.1,470.2L1946.3,466.7L1947.6,462.9L1948.9,459.5L1950.0,457.6L1952.2,457.8L1955.6,459.2L1959.0,460.6L1961.3,460.8L1962.2,459.4L1963.3,456.7L1964.5,453.4L1965.8,449.8L1966.9,446.4L1968.0,443.6L1968.8,442.1L1971.4,442.1L1974.9,443.8L1977.5,444.2L1978.6,443.0L1980.0,440.4L1981.5,437.2L1982.8,434.2L1983.7,432.5L1986.1,431.4L1988.6,429.8L1989.3,428.0L1990.4,425.3L1991.6,421.8L1992.9,418.1L1994.2,414.6L1995.2,411.7L1996.0,409.8L1997.0,407.3L1998.2,404.1L1999.5,400.7L2000.8,398.0L2002.0,396.6L2004.5,396.1L2008.2,395.9L2011.9,395.3L2014.0,394.6"/>
<path class="c" stroke="#f00" stroke-width="13" d="M136.0,1181.8L137.0,1181.6L138.2,1181.3L139.6,1181.1L141.2,1181.5L142.9,1181.8L144.8,1182.2L146.9,1182.4L149.2,1182.6L151.6,1182.8L154.1,1182.5L156.8,1182.1L159.6,1181.7L162.6,1182.1L165.6,1182.5L168.8,1182.8L172.0,1182.6L175.4,1182.5L178.8,1182.3L182.3,1181.7L185.9,1181.1L189.5,1180.6L193.2,1180.6L197.0,1180.7L200.8,1180.7L204.6,1181.2L208.4,1181.7L212.3,1182.2L216.2,1181.8L220.1,1181.4L224.0,1181.0L227.9,1181.0L231.7,1180.9L235.6,1180.9L239.4,1180.6L243.2,1180.3L246.9,1180.1L250.6,1180.0L254.2,1180.0L257.8,1179.9L261.3,1179.9L264.7,1179.9L268.0,1180.0L271.3,1180.6L274.4,1181.2L277.4,1181.8L280.3,1181.3L283.1,1180.8L285.7,1180.3L288.2,1180.3L290.6,1180.2L292.8,1180.1L294.9,1179.9L296.8,1179.8L298.5,1179.6L300.0,1180.1L302.5,1180.5L305.1,1181.0L307.9,1180.9L310.8,1180.8L313.8,1180.6L316.9,1180.7L320.2,1180.8L323.5,1180.8L326.9,1180.7L330.3,1180.5L333.8,1180.4L337.3,1180.4L340.9,1180.5L344.4,1180.5L348.0,1180.4L351.6,1180.4L355.1,1180.3L358.6,1179.9L362.1,1179.4L365.5,1179.0L368.9,1179.4L372.2,1179.8L375.4,1180.3L378.5,1180.2L381.5,1180.2L384.3,1180.2L387.1,1179.7L389.6,1179.1L392.1,1178.6L394.3,1178.5L396.4,1178.4L398.3,1178.4L400.0,1178.9L402.2,1179.4L404.6,1179.9L407.3,1179.9L410.1,1180.0L413.0,1180.0L416.1,1179.5L419.3,1179.0L422.6,1178.4L426.0,1178.8L429.4,1179.2L432.9,1179.6L436.4,1179.4L439.9,1179.1L443.4,1178.9L446.8,1179.2L450.2,1179.5L453.5,1179.8L456.6,1179.6L459.7,1179.4L462.6,1179.2L465.4,1179.4L468.0,1179.6L470.3,1179.8L472.5,1179.8L474.4,1179.8L476.4,1179.8L478.6,1179.6L481.2,1179.3L484.0,1179.1L487.0,1179.4L490.2,1179.7L493.6,1180.0L497.1,1179.2L500.7,1178.5L504.4,1177.7L508.2,1177.7L512.0,1177.7L515.7,1177.8L519.4,1178.1L523.0,1178.4L526.6,1178.7L530.0,1178.3L533.2,1177.9L536.2,1177.5L539.1,1177.7L541.6,1178.0L543.9,1178.2L545.9,1178.5L547.5,1178.8L548.8,1179.1L552.9,1179.5L556.2,1180.5L558.9,1182.1L560.9,1184.1L562.5,1186.0L563.7,1187.5L564.7,1189.4L565.7,1192.0L566.6,1194.9L567.5,1198.1L568.2,1201.2L568.7,1204.0L568.9,1205.6L569.2,1207.9L569.5,1210.7L569.9,1213.9L570.2,1217.3L570.5,1220.9L570.9,1224.5L571.2,1228.1L571.6,1231.4L571.9,1234.4L572.2,1237.0L572.4,1238.9L572.7,1241.1L573.2,1243.8L573.7,1247.0L574.3,1250.5L574.9,1254.1L575.5,1257.7L576.0,1261.1L576.6,1264.2L577.0,1266.9L577.4,1268.8L577.9,1271.1L578.4,1274.0L579.1,1277.5L579.9,1281.2L580.6,1284.9L581.3,1288.3L581.8,1291.2L582.3,1293.5L582.8,1295.8L583.4,1298.9L584.1,1302.4L584.8,1306.0L585.5,1309.6L586.2,1313.0L586.8,1315.9L587.3,1318.0L588.0,1320.6L588.8,1324.1L589.8,1327.8L590.8,1331.4L591.7,1334.3L592.3,1336.4L596.0,1339.1L596.8,1336.8L597.9,1334.0L599.2,1330.4L600.3,1326.7L601.0,1322.9L601.1,1321.4L601.3,1319.4L601.5,1316.8L601.6,1313.9L601.8,1310.6L602.0,1307.1L602.1,1303.4L602.3,1299.6L602.5,1295.7L602.6,1291.9L602.8,1288.2L602.9,1284.6L603.1,1281.3L603.2,1278.3L603.3,1275.7L603.4,1273.6L603.5,1271.6L603.6,1269.3L603.8,1266.6L603.9,1263.6L604.1,1260.3L604.2,1256.9L604.4,1253.4L604.6,1249.8L604.8,1246.2L605.0,1242.7L605.1,1239.2L605.3,1236.0L605.5,1232.9L605.6,1230.1L605.7,1227.6L605.8,1225.6L605.9,1224.0L606.0,1221.1L606.0,1217.9L606.1,1214.3L606.1,1210.7L606.1,1207.1L606.2,1203.7L606.4,1200.7L606.6,1198.3L607.0,1196.7L608.4,1194.5L610.7,1192.2L613.4,1190.1L616.1,1188.1L618.3,1186.5L619.9,1185.0L622.0,1183.1L624.6,1181.2L627.5,1179.2L630.4,1177.3L633.2,1176.1L635.7,1175.4L637.4,1175.4L639.9,1175.4L642.8,1175.5L646.2,1175.6L649.8,1175.0L653.7,1174.5L657.5,1174.0L661.3,1174.2L664.8,1174.4L668.0,1174.6L670.8,1174.5L672.9,1174.4L675.0,1174.3L677.7,1174.2L680.7,1174.0L684.1,1173.9L687.7,1174.2L691.3,1174.6L694.8,1174.9L698.2,1174.8L701.3,1174.8L704.0,1174.8L706.1,1174.3L707.6,1173.9L710.2,1174.6L712.4,1176.9L714.4,1179.5L716.1,1181.9L717.5,1183.8L719.2,1185.6L721.5,1187.8L724.0,1189.9L726.1,1192.0L727.5,1193.9L728.0,1195.8L728.5,1198.4L729.0,1201.5L729.5,1204.9L729.9,1208.4L730.3,1211.7L730.7,1214.6L731.0,1216.7L731.4,1218.8L731.8,1221.5L732.4,1224.6L732.9,1227.9L733.5,1231.2L734.1,1234.2L734.6,1236.8L735.0,1238.9L735.4,1240.9L736.0,1243.5L736.7,1246.4L737.4,1249.5L738.2,1252.7L738.8,1255.8L739.4,1258.7L739.9,1261.1L740.2,1262.8L740.5,1265.0L740.8,1267.7L741.2,1270.7L741.7,1273.9L742.1,1277.3L742.6,1280.8L743.0,1284.4L743.4,1287.8L743.9,1291.1L744.2,1294.0L744.5,1296.6L744.8,1298.6L745.1,1300.6L745.4,1303.1L745.8,1305.8L746.2,1308.9L746.6,1312.1L747.1,1315.5L747.6,1319.0L748.0,1322.4L748.5,1325.7L748.9,1328.7L749.3,1331.5L749.6,1333.8L749.8,1335.7L750.1,1337.9L750.4,1340.7L750.7,1343.9L751.1,1347.5L751.5,1351.0L751.8,1354.6L752.2,1358.1L752.6,1361.3L752.9,1364.1L753.2,1366.4L753.5,1367.9L755.0,1372.1L757.0,1375.6L758.5,1377.3L760.0,1375.8L762.0,1372.4L763.4,1368.0L763.7,1366.3L764.0,1364.1L764.3,1361.3L764.6,1358.1L765.0,1354.6L765.4,1350.9L765.8,1347.3L766.1,1343.8L766.4,1340.6L766.7,1337.8L767.0,1335.6L767.2,1333.7L767.5,1331.4L767.9,1328.6L768.3,1325.4L768.8,1322.1L769.2,1318.5L769.7,1315.0L770.1,1311.5L770.6,1308.1L771.0,1305.0L771.4,1302.3L771.7,1300.1L772.0,1298.5L772.6,1296.0L773.3,1293.3L774.1,1290.2L775.0,1287.1L775.9,1284.0L776.5,1281.1L777.0,1278.5L777.2,1276.8L777.4,1274.6L777.6,1271.8L777.8,1268.7L778.1,1265.2L778.3,1261.6L778.6,1257.9L778.8,1254.1L779.0,1250.5L779.2,1247.0L779.4,1243.9L779.5,1241.1L779.6,1238.9L779.7,1236.9L779.7,1234.4L779.8,1231.5L779.8,1228.2L779.8,1224.7L779.8,1221.0L779.9,1217.2L779.9,1213.4L780.0,1209.7L780.0,1206.1L780.1,1202.8L780.2,1199.9L780.4,1197.4L780.6,1195.5L780.8,1194.4L782.2,1191.6L784.5,1189.2L787.3,1187.3L790.0,1186.0L792.0,1184.9L793.6,1183.6L795.8,1181.8L798.4,1179.6L801.2,1177.5L804.1,1175.8L806.8,1174.8L808.5,1174.5L811.1,1174.2L814.2,1173.8L817.8,1173.5L821.7,1174.0L825.8,1174.6L829.8,1175.1L833.6,1174.4L837.1,1173.7L840.1,1173.1L842.5,1173.7L844.0,1174.5L846.4,1176.5L847.8,1179.1L848.4,1182.0L849.0,1183.7L850.6,1186.0L852.7,1187.2L854.9,1186.6L858.3,1185.2L861.8,1183.7L863.9,1182.6L864.7,1180.7L865.1,1177.9L866.4,1176.5L868.0,1176.1L870.5,1175.6L873.7,1175.2L877.2,1174.7L880.6,1174.3L883.7,1173.9L886.0,1174.1L888.1,1174.3L890.8,1174.5L894.1,1174.2L897.6,1174.0L901.1,1173.7L904.5,1173.4L907.4,1173.1L909.6,1172.8L911.9,1173.3L914.8,1173.8L918.3,1174.4L922.0,1174.2L925.7,1174.1L929.1,1173.9L932.1,1174.0L934.4,1174.0L936.8,1173.8L939.9,1173.7L943.6,1173.4L947.4,1173.0L951.2,1172.2L954.6,1171.6L957.3,1171.1L959.0,1171.5L960.8,1173.4L962.0,1176.6L963.0,1179.9L964.0,1182.1L965.9,1183.7L968.8,1184.6L971.8,1185.5L974.0,1186.0L976.2,1187.4L979.2,1189.1L982.1,1191.2L984.0,1193.3L984.4,1194.7L984.8,1197.1L985.3,1200.3L985.7,1204.0L986.1,1207.9L986.5,1211.8L986.9,1215.6L987.2,1219.1L987.5,1222.0L987.8,1224.1L988.2,1226.6L988.8,1229.8L989.4,1233.4L990.2,1237.1L990.9,1240.8L991.6,1244.2L992.2,1246.9L992.7,1248.6L994.0,1251.2L995.8,1253.8L997.6,1256.0L998.9,1256.7L1000.5,1255.7L1002.5,1252.4L1003.9,1248.5L1004.2,1247.0L1004.6,1244.6L1005.0,1241.6L1005.4,1238.2L1005.8,1234.5L1006.3,1230.7L1006.7,1227.0L1007.1,1223.8L1007.4,1221.0L1007.6,1218.9L1007.8,1216.7L1008.0,1213.8L1008.1,1210.5L1008.3,1207.0L1008.5,1203.4L1008.8,1200.1L1009.1,1197.1L1009.5,1194.6L1010.0,1192.7L1011.8,1191.1L1014.7,1190.0L1018.1,1189.1L1021.3,1187.2L1023.7,1185.4L1025.3,1183.6L1027.4,1181.6L1029.8,1179.2L1032.4,1176.7L1034.8,1174.5L1037.0,1172.7L1038.6,1171.6L1041.0,1171.1L1044.3,1170.9L1047.9,1170.9L1051.2,1170.3L1053.5,1169.7L1056.3,1168.7L1059.9,1168.1L1063.4,1167.6L1065.9,1167.6L1069.0,1168.1L1072.8,1169.1L1075.8,1169.7L1078.9,1168.7L1082.9,1167.2L1085.7,1166.7L1087.2,1168.6L1089.0,1171.7L1090.7,1174.9L1092.0,1177.2L1093.2,1179.3L1094.9,1182.0L1096.6,1184.5L1098.0,1185.9L1100.7,1186.2L1104.7,1185.9L1108.0,1185.3L1110.3,1184.3L1113.6,1183.3L1117.4,1182.0L1120.7,1180.8L1123.0,1179.3L1125.4,1177.6L1128.3,1175.2L1131.1,1173.4L1132.9,1172.1L1133.9,1170.0L1134.8,1166.9L1136.0,1164.1L1137.8,1162.6L1139.6,1161.9L1142.5,1161.1L1146.1,1160.5L1150.2,1160.3L1154.2,1160.2L1157.8,1160.2L1160.8,1160.9L1162.6,1161.7L1164.3,1163.6L1165.7,1166.1L1166.9,1169.2L1167.9,1172.0L1168.8,1173.9L1171.0,1176.6L1174.1,1179.5L1176.3,1180.8L1178.1,1180.2L1180.4,1178.5L1182.5,1176.4L1183.6,1175.0L1185.1,1172.6L1187.0,1169.6L1189.0,1166.4L1191.1,1163.5L1193.1,1161.0L1194.9,1159.5L1196.8,1158.8L1199.6,1158.5L1203.1,1158.3L1206.8,1158.2L1210.7,1157.0L1214.3,1156.0L1217.4,1154.9L1219.7,1155.0L1222.0,1155.0L1225.0,1154.7L1228.4,1154.3L1232.1,1153.8L1235.8,1153.4L1239.2,1152.1L1242.2,1150.9L1244.5,1149.8L1246.8,1149.9L1249.9,1149.9L1253.4,1149.8L1257.2,1149.6L1260.9,1149.4L1264.3,1149.4L1267.1,1149.1L1269.0,1148.9L1271.9,1149.3L1274.9,1149.9L1278.1,1150.5L1281.7,1150.6L1283.4,1150.5L1285.8,1150.3L1288.7,1150.0L1292.2,1149.9L1295.9,1149.7L1299.8,1149.6L1303.8,1149.2L1307.6,1148.9L1311.2,1148.5L1314.3,1147.6L1317.0,1146.7L1318.9,1146.0L1321.6,1146.3L1324.8,1146.6L1328.3,1146.9L1331.9,1146.6L1335.5,1146.3L1338.8,1146.0L1341.6,1145.7L1343.7,1145.5L1346.1,1145.2L1349.1,1144.2L1352.5,1143.1L1356.0,1141.9L1359.2,1141.6L1361.8,1141.4L1363.6,1141.5L1366.7,1141.1L1369.8,1141.2L1372.0,1141.0L1374.8,1141.0L1377.5,1141.2L1379.7,1142.5L1382.7,1143.4L1385.0,1144.6L1386.2,1146.1L1387.9,1148.8L1389.7,1151.9L1391.3,1154.6L1392.4,1156.7L1394.0,1159.5L1395.9,1162.7L1397.4,1163.9L1398.6,1162.7L1400.4,1160.0L1402.2,1156.8L1403.6,1154.2L1404.6,1152.3L1406.1,1149.6L1407.8,1146.4L1409.6,1143.3L1411.1,1140.8L1412.3,1139.2L1414.6,1137.8L1417.9,1137.2L1422.0,1136.8L1423.5,1136.8L1425.7,1136.8L1428.5,1136.8L1431.7,1136.8L1435.2,1136.8L1438.9,1136.8L1442.6,1136.8L1446.2,1136.0L1449.6,1135.3L1452.6,1134.6L1455.0,1134.3L1456.9,1134.0L1459.4,1133.6L1462.4,1133.1L1465.7,1132.6L1469.2,1131.9L1472.7,1131.1L1476.0,1130.3L1479.1,1129.6L1481.7,1129.2L1483.6,1128.9L1486.3,1128.6L1489.4,1128.5L1493.0,1128.4L1496.8,1128.3L1500.8,1127.8L1504.7,1127.3L1508.4,1126.8L1511.9,1126.9L1514.9,1127.0L1517.2,1127.1L1518.9,1126.6L1522.5,1125.5L1525.7,1124.2L1528.7,1122.7L1531.3,1121.5L1533.3,1120.7L1536.4,1119.9L1540.0,1118.9L1543.7,1117.9L1547.2,1117.3L1550.1,1116.9L1552.0,1116.7L1554.7,1116.7L1557.2,1116.8L1559.4,1116.8L1561.8,1115.9L1565.2,1114.4L1568.9,1112.9L1571.8,1111.5L1573.9,1110.5L1576.9,1109.6L1580.3,1109.9L1583.8,1110.2L1586.8,1110.4L1589.0,1110.5L1591.6,1110.4L1595.0,1110.1L1598.6,1109.0L1601.8,1107.9L1604.0,1107.0L1606.3,1106.4L1609.1,1105.5L1611.8,1104.6L1614.0,1104.0L1616.5,1103.8L1620.1,1103.9L1623.7,1104.0L1626.4,1103.9L1629.0,1103.2L1632.6,1101.3L1636.2,1099.4L1638.8,1097.9L1641.4,1097.8L1645.0,1097.6L1648.5,1097.6L1651.0,1097.6L1654.2,1098.1L1658.1,1098.8L1661.0,1098.3L1663.4,1096.9L1666.2,1095.0L1668.6,1094.3L1671.5,1094.0L1675.4,1093.7L1678.5,1093.3L1680.7,1092.6L1683.6,1091.3L1686.5,1090.1L1688.4,1089.5L1691.7,1090.1L1694.6,1091.2L1697.2,1093.5L1700.0,1094.9L1701.6,1093.7L1703.9,1091.1L1706.3,1088.4L1708.3,1086.4L1710.7,1085.1L1714.3,1083.5L1717.9,1081.9L1720.7,1080.9L1723.1,1080.4L1726.5,1080.0L1730.2,1079.7L1733.5,1079.3L1735.6,1079.4L1738.1,1078.2L1740.7,1076.2L1743.0,1074.1L1745.3,1072.9L1748.8,1071.6L1752.4,1071.1L1755.0,1070.9L1757.7,1070.7L1761.5,1070.4L1765.2,1069.9L1767.8,1069.2L1770.0,1068.0L1772.9,1065.6L1775.6,1063.3L1777.7,1061.8L1780.8,1061.0L1784.8,1060.5L1787.7,1059.8L1789.9,1058.5L1792.6,1056.6L1795.0,1055.6L1797.0,1055.5L1800.1,1055.3L1803.6,1054.4L1806.7,1053.5L1808.8,1052.7L1810.8,1052.0L1813.2,1050.5L1815.6,1049.1L1817.4,1047.6L1820.4,1047.3L1824.3,1047.5L1827.4,1048.1L1829.5,1047.2L1832.4,1045.0L1835.3,1042.5L1837.3,1040.6L1839.0,1038.4L1841.0,1035.2L1843.1,1032.3L1844.7,1031.0L1847.3,1031.3L1850.7,1032.7L1853.4,1033.3L1856.0,1031.9L1859.4,1029.5L1862.0,1027.5L1863.7,1026.1L1865.9,1023.9L1868.0,1021.8L1869.5,1020.3L1872.0,1019.0L1874.5,1017.6L1876.0,1016.0L1878.1,1013.4L1880.3,1010.8L1882.0,1009.2L1884.9,1008.7L1888.9,1008.6L1891.9,1008.5L1893.8,1007.3L1896.3,1005.0L1898.7,1002.7L1900.5,1001.7L1902.7,1002.0L1905.5,1002.8L1908.0,1002.7L1909.6,1001.6L1912.0,999.5L1914.8,997.0L1917.6,994.5L1920.0,992.6L1921.6,991.4L1924.0,990.0L1926.7,989.4L1929.0,989.3L1931.3,989.9L1934.5,990.5L1937.8,991.0L1940.0,990.7L1941.5,988.4L1943.3,984.7L1945.0,980.8L1946.4,978.7L1948.9,978.0L1952.3,977.8L1955.0,977.2L1956.9,975.6L1959.5,973.1L1962.0,970.3L1963.8,968.4L1966.0,966.9L1968.8,965.4L1971.0,964.7L1973.7,965.8L1977.3,968.4L1979.9,969.3L1980.7,967.8L1981.6,965.0L1982.5,961.5L1983.4,958.0L1984.2,954.9L1984.9,953.1L1988.0,950.7L1991.0,949.2L1992.5,947.0L1994.5,943.8L1996.0,941.6L1999.0,940.4L2002.0,939.3L2003.2,936.7L2004.7,932.9L2006.0,930.0L2008.4,929.9L2011.8,930.8L2014.0,931.5"/>
</g>
<g fill="#000">
<rect x="129" y="38" width="7" height="1425"/>
<rect x="134" y="33" width="1882" height="6"/>
<rect x="2014" y="28" width="6" height="1432"/>
<rect x="129" y="1457" width="1890" height="7"/>
<rect x="320.5" y="1433" width="6" height="26"/>
<rect x="697.0" y="1433" width="6" height="26"/>
<rect x="1073.5" y="1433" width="6" height="26"/>
<rect x="1450.5" y="1433" width="6" height="26"/>
<rect x="1827.5" y="1433" width="6" height="26"/>
<rect x="509.0" y="1446" width="6" height="13"/>
<rect x="885.5" y="1446" width="6" height="13"/>
<rect x="1262.0" y="1446" width="6" height="13"/>
<rect x="1639.0" y="1446" width="6" height="13"/>
</g>
<text x="325.0" y="1535.5" font-size="61.5" text-anchor="middle">1400</text>
<text x="701.5" y="1535.5" font-size="61.5" text-anchor="middle">1200</text>
<text x="1078.5" y="1535.5" font-size="61.5" text-anchor="middle">1000</text>
<text x="1454.0" y="1535.5" font-size="61.5" text-anchor="middle">800</text>
<text x="1830.0" y="1535.5" font-size="61.5" text-anchor="middle">600</text>
<text x="902.6" y="1625.3" font-size="61.3">Wavenumber (cm</text>
<text x="1342.6" y="1587.7" font-size="35" textLength="38.9" lengthAdjust="spacingAndGlyphs">−</text>
<text x="1378.2" y="1592" font-size="36">1</text>
<text x="1397.3" y="1625.3" font-size="62">)</text>
<text transform="translate(84.5,1038) rotate(-90)" font-size="61.7">Transmittance (%)</text>
<text x="174" y="133.5" font-size="49.3">Butyl xanthate</text>
<text x="175.3" y="655" font-size="49.5">Chalcopyrite</text>
<text x="165.2" y="844" font-size="49.3">Chalcopyrite+Butyl xanthate</text>
<text x="156.2" y="1139.7" font-size="49.2">Chalcopyrite+Butyl xanthate with magnetization</text>
<text transform="translate(809.2,649.4) rotate(-90)" font-size="49.3">1151.66</text>
<text transform="translate(897.7,681.4) rotate(-90)" font-size="49.3">1106.74</text>
<text transform="translate(970.7,669.4) rotate(-90)" font-size="49.3">1073.71</text>
<text transform="translate(604.2,1100.4) rotate(-90)" font-size="49.3">1260</text>
<text transform="translate(780.7,1096.0) rotate(-90)" font-size="49.3">1160</text>
<text transform="translate(854.7,1023.4) rotate(-90)" font-size="49.3">1125</text>
<text transform="translate(1025.9,1072.4) rotate(-90)" font-size="49.3">1040</text>
<text transform="translate(1116.8,1050.0) rotate(-90)" font-size="49.3">985</text>
<text transform="translate(1259.6,984.5) rotate(-90)" font-size="49.3">950</text>
<text transform="translate(601.2,1426.9) rotate(-90)" font-size="49.3">1260</text>
<text transform="translate(747.7,1446.4) rotate(-90)" font-size="49.3">1160</text>
<text transform="translate(880.2,1302.9) rotate(-90)" font-size="49.3">1125</text>
<text transform="translate(1016.2,1372.4) rotate(-90)" font-size="49.3">1040</text>
<text transform="translate(1119.7,1268.2) rotate(-90)" font-size="49.3">985</text>
</svg></body></html>
